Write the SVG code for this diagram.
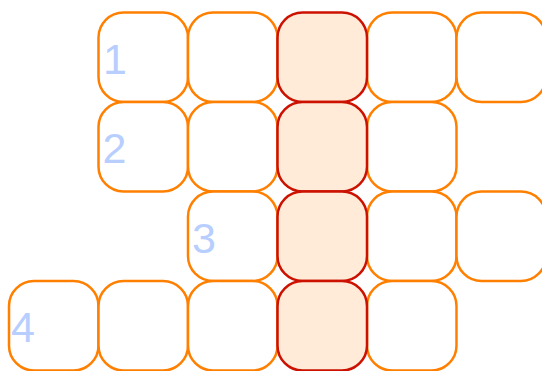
<svg xmlns="http://www.w3.org/2000/svg" width="542" height="371" viewBox="0 0 542 371">
<style>
.c{fill:#ffffff;stroke:#ff8000;stroke-width:2.5}
.r{fill:#ffebd7;stroke:#cc1100;stroke-width:2.5}
.n{font-family:"Liberation Sans",Arial,sans-serif;font-size:43px;fill:#b7ceff}
</style>
<defs>
<rect id="cell" width="89.5" height="89.5" rx="25" ry="25"/>
</defs>
<g id="row1">
<g id="r1c2"><use href="#cell" class="c" x="98.5" y="12.5"/><text class="n" x="103" y="73.5">1</text></g>
<g id="r1c3"><use href="#cell" class="c" x="188" y="12.5"/></g>
<g id="r1c5"><use href="#cell" class="c" x="367" y="12.5"/></g>
<g id="r1c6"><use href="#cell" class="c" x="456.5" y="12.5"/></g>
</g>
<g id="row2">
<g id="r2c2"><use href="#cell" class="c" x="98.5" y="102"/><text class="n" x="102.5" y="163">2</text></g>
<g id="r2c3"><use href="#cell" class="c" x="188" y="102"/></g>
<g id="r2c5"><use href="#cell" class="c" x="367" y="102"/></g>
</g>
<g id="row3">
<g id="r3c3"><use href="#cell" class="c" x="188" y="191.5"/><text class="n" x="192" y="252.5">3</text></g>
<g id="r3c5"><use href="#cell" class="c" x="367" y="191.5"/></g>
<g id="r3c6"><use href="#cell" class="c" x="456.5" y="191.5"/></g>
</g>
<g id="row4">
<g id="r4c1"><use href="#cell" class="c" x="9" y="281"/><text class="n" x="11" y="342">4</text></g>
<g id="r4c2"><use href="#cell" class="c" x="98.5" y="281"/></g>
<g id="r4c3"><use href="#cell" class="c" x="188" y="281"/></g>
<g id="r4c5"><use href="#cell" class="c" x="367" y="281"/></g>
</g>
<g id="highlight">
<g id="r1c4"><use href="#cell" class="r" x="277.5" y="12.5"/></g>
<g id="r2c4"><use href="#cell" class="r" x="277.5" y="102"/></g>
<g id="r3c4"><use href="#cell" class="r" x="277.5" y="191.5"/></g>
<g id="r4c4"><use href="#cell" class="r" x="277.5" y="281"/></g>
</g>
<g id="connectors"/>
</svg>
